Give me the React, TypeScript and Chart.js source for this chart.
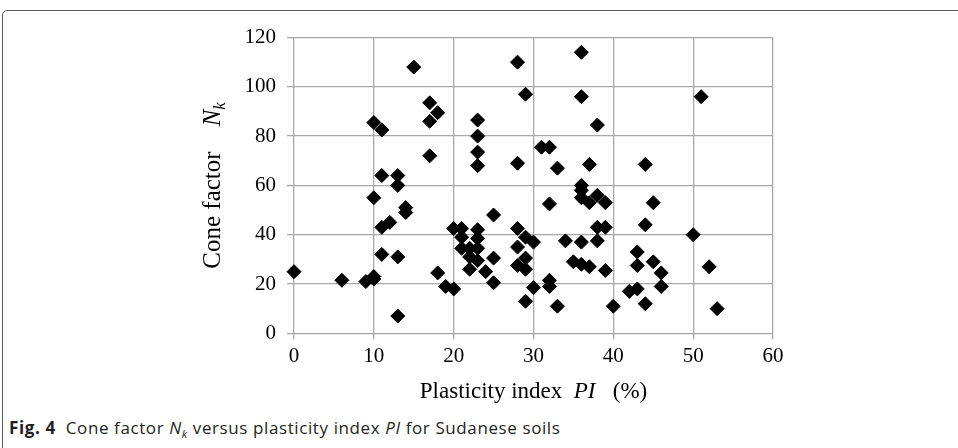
import React, { useEffect, useRef } from "react";
import { Chart, registerables } from "chart.js";

Chart.register(...registerables);

const xTicks = [0, 10, 20, 30, 40, 50, 60];
const yTicks = [0, 20, 40, 60, 80, 100, 120];

// Plasticity index PI (%)
const piValues = [
  0, 6, 9, 10, 10, 10, 10, 11, 11, 11, 11, 12, 13, 13, 13, 13, 14, 14, 15, 17,
  17, 17, 18, 18, 19, 20, 20, 21, 21, 21, 22, 22, 22, 23, 23, 23, 23, 23, 23, 23,
  23, 24, 25, 25, 25, 28, 28, 28, 28, 28, 29, 29, 29, 29, 29, 30, 30, 31, 32, 32,
  32, 32, 33, 33, 34, 35, 36, 36, 36, 36, 36, 36, 36, 37, 37, 37, 38, 38, 38, 38,
  39, 39, 39, 40, 42, 43, 43, 43, 44, 44, 44, 45, 45, 46, 46, 50, 51, 52, 53,
];
// Cone factor Nk
const nkValues = [
  25, 21.5, 21, 22, 23, 55, 85.5, 82.5, 64, 43, 32, 45, 64, 60, 31, 7, 51, 49, 108, 93.5,
  86, 72, 89.5, 24.5, 19, 18, 42.5, 42.5, 39, 34.5, 34.5, 31, 26, 86.5, 80, 73.5, 68, 42, 38.5, 34.5,
  29.5, 25, 48, 30.5, 20.5, 110, 69, 42.5, 35, 27.5, 97, 39, 30.5, 26, 13, 37, 18.5, 75.5, 75.5, 52.5,
  21.5, 19, 67, 11, 37.5, 29, 114, 96, 60, 58, 55, 37, 28, 68.5, 53, 27, 84.5, 56, 43, 37.5,
  53, 43, 25.5, 11, 17, 33, 27.5, 18, 68.5, 44, 12, 53, 29, 24.5, 19, 40, 96, 27, 10,
];

const SERIF = "'Liberation Serif', 'Times New Roman', serif";

const titlePlugin = {
  id: "axisTitles",
  afterDraw(chart: any) {
    const { ctx, chartArea } = chart;
    ctx.save();
    ctx.fillStyle = "#000";
    ctx.textBaseline = "alphabetic";
    // X title
    const xParts = [
      { t: "Plasticity index  ", f: `23px ${SERIF}`, dy: 0 },
      { t: "PI", f: `italic 23px ${SERIF}`, dy: 0 },
      { t: "   (%)", f: `23px ${SERIF}`, dy: 0 },
    ];
    let total = 0;
    for (const p of xParts) {
      ctx.font = p.f;
      total += ctx.measureText(p.t).width;
    }
    let x = (chartArea.left + chartArea.right) / 2 - total / 2;
    const yBase = 398;
    for (const p of xParts) {
      ctx.font = p.f;
      ctx.fillText(p.t, x, yBase + p.dy);
      x += ctx.measureText(p.t).width;
    }
    // Y title (rotated)
    const yParts = [
      { t: "Cone factor    ", f: `25px ${SERIF}`, dy: 0 },
      { t: "N", f: `italic 25px ${SERIF}`, dy: 0 },
      { t: "k", f: `italic 17px ${SERIF}`, dy: 5 },
    ];
    total = 0;
    for (const p of yParts) {
      ctx.font = p.f;
      total += ctx.measureText(p.t).width;
    }
    ctx.translate(220, (chartArea.top + chartArea.bottom) / 2);
    ctx.rotate(-Math.PI / 2);
    x = -total / 2;
    for (const p of yParts) {
      ctx.font = p.f;
      ctx.fillText(p.t, x, p.dy);
      x += ctx.measureText(p.t).width;
    }
    ctx.restore();
  },
};

export default function App() {
  const canvasRef = useRef<HTMLCanvasElement | null>(null);

  useEffect(() => {
    document.body.style.margin = "0";
    const canvas = canvasRef.current;
    if (!canvas) return;
    const points = piValues.map((v, i) => ({ x: v, y: nkValues[i] }));
    const chart = new Chart(canvas, {
      type: "scatter",
      data: {
        datasets: [
          {
            label: "Nk",
            data: points,
            pointStyle: "rectRot",
            pointRadius: 7,
            pointBackgroundColor: "#000",
            pointBorderColor: "#000",
            pointBorderWidth: 1,
            clip: false,
          } as any,
        ],
      },
      options: {
        animation: false,
        responsive: false,
        maintainAspectRatio: false,
        layout: { padding: { top: 37.5, right: 185, left: 0, bottom: 0 } },
        plugins: { legend: { display: false }, tooltip: { enabled: false } },
        scales: {
          x: {
            type: "linear",
            min: 0,
            max: 60,
            afterBuildTicks: (s: any) => {
              s.ticks = xTicks.map((v) => ({ value: v }));
            },
            afterFit: (s: any) => {
              s.height = 410 - 333.3;
            },
            ticks: {
              color: "#000",
              font: { family: SERIF, size: 21 },
              padding: 5,
            },
            grid: { color: "#a8a8a8", lineWidth: 1.3, tickLength: 6 },
            border: { display: false },
          },
          y: {
            type: "linear",
            min: 0,
            max: 120,
            afterBuildTicks: (s: any) => {
              s.ticks = yTicks.map((v) => ({ value: v }));
            },
            afterFit: (s: any) => {
              s.width = 294;
            },
            ticks: {
              color: "#000",
              font: { family: SERIF, size: 21 },
              padding: 11,
            },
            grid: { color: "#a8a8a8", lineWidth: 1.3, tickLength: 7 },
            border: { display: false },
          },
        },
      },
      plugins: [titlePlugin],
    });
    return () => chart.destroy();
  }, []);

  return (
    <div
      style={{
        position: "relative",
        width: 958,
        height: 448,
        overflow: "hidden",
        background: "#fff",
      }}
    >
      <div
        style={{
          position: "absolute",
          left: 2,
          top: 10,
          width: 970,
          height: 470,
          border: "1.5px solid #5a5a5a",
          borderRadius: 5,
          boxSizing: "border-box",
        }}
      />
      <canvas
        ref={canvasRef}
        width={958}
        height={410}
        style={{ position: "absolute", left: 0, top: 0, width: 958, height: 410 }}
      />
      <div
        style={{
          position: "absolute",
          left: 9,
          top: 417,
          fontFamily: "'Open Sans', sans-serif",
          fontSize: 17,
          letterSpacing: 0.6,
          color: "#231f20",
          whiteSpace: "nowrap",
          lineHeight: "22px",
        }}
      >
        <b>Fig. 4</b>&nbsp; Cone factor <i>N</i>
        <sub style={{ fontSize: 11, fontStyle: "italic", lineHeight: 0 }}>k</sub> versus plasticity
        index <i>PI</i> for Sudanese soils
      </div>
    </div>
  );
}
